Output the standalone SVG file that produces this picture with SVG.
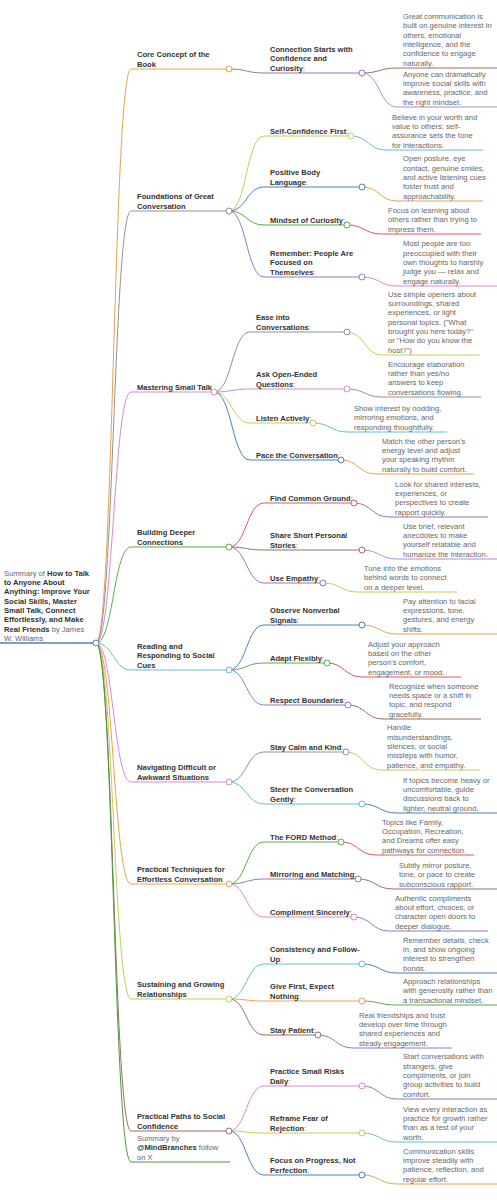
<svg xmlns="http://www.w3.org/2000/svg" width="497" height="1200" viewBox="0 0 497 1200">
<style>
text{font-family:"Liberation Sans",Arial,Helvetica,sans-serif;font-size:7.6px;fill:#666}
.b{font-weight:bold;fill:#333}
.r{font-weight:normal;fill:#666}
path{fill:none;stroke-width:1}
circle{fill:#fff;stroke-width:1}
.blue{stroke:#4f7fb8}.orange{stroke:#e8a34f}.green{stroke:#5eab4c}.red{stroke:#d65a5a}
.purple{stroke:#9479bd}.brown{stroke:#9c6f60}.pink{stroke:#d889cf}.gray{stroke:#929292}
.olive{stroke:#c6cd5a}.teal{stroke:#62c0cf}.dkgreen{stroke:#4d9a3c}.lav{stroke:#b78bcf}
</style>
<rect width="497" height="1200" fill="#fff"/>
<g id="connectors">
<path class="orange" d="M96,643C113.5,643 113.5,69 131,69"/>
<path class="gray" d="M96,643C113.5,643 113.5,211 131,211"/>
<path class="pink" d="M96,643C113.5,643 113.5,392 131,392"/>
<path class="green" d="M96,643C113.5,643 113.5,547 131,547"/>
<path class="teal" d="M96,643C113.5,643 113.5,670 131,670"/>
<path class="pink" d="M96,643C113.5,643 113.5,782 131,782"/>
<path class="orange" d="M96,643C113.5,643 113.5,884 131,884"/>
<path class="olive" d="M96,643C113.5,643 113.5,999 131,999"/>
<path class="brown" d="M96,643C113.5,643 113.5,1131 131,1131"/>
<path class="dkgreen" d="M96,643C113.5,643 113.5,1162 131,1162"/>
<path class="purple" d="M229,69C246.5,69 246.5,73 264,73"/>
<path class="olive" d="M229,211C246.5,211 246.5,136 264,136"/>
<path class="blue" d="M229,211C246.5,211 246.5,187 264,187"/>
<path class="green" d="M229,211C246.5,211 246.5,225 264,225"/>
<path class="purple" d="M229,211C246.5,211 246.5,277 264,277"/>
<path class="gray" d="M214,392C232,392 232,332 250,332"/>
<path class="pink" d="M214,392C232,392 232,389 250,389"/>
<path class="olive" d="M214,392C232,392 232,423 250,423"/>
<path class="blue" d="M214,392C232,392 232,460 250,460"/>
<path class="red" d="M229,547C246.5,547 246.5,503 264,503"/>
<path class="brown" d="M229,547C246.5,547 246.5,550 264,550"/>
<path class="purple" d="M229,547C246.5,547 246.5,583 264,583"/>
<path class="blue" d="M229,670C246.5,670 246.5,625 264,625"/>
<path class="green" d="M229,670C246.5,670 246.5,663 264,663"/>
<path class="purple" d="M229,670C246.5,670 246.5,705 264,705"/>
<path class="gray" d="M229,782C246.5,782 246.5,752 264,752"/>
<path class="teal" d="M229,782C246.5,782 246.5,804 264,804"/>
<path class="green" d="M229,884C246.5,884 246.5,842 264,842"/>
<path class="purple" d="M229,884C246.5,884 246.5,879 264,879"/>
<path class="pink" d="M229,884C246.5,884 246.5,917 264,917"/>
<path class="teal" d="M229,999C246.5,999 246.5,964 264,964"/>
<path class="orange" d="M229,999C246.5,999 246.5,1001 264,1001"/>
<path class="brown" d="M229,999C246.5,999 246.5,1035 264,1035"/>
<path class="pink" d="M229,1131C246.5,1131 246.5,1086 264,1086"/>
<path class="olive" d="M229,1131C246.5,1131 246.5,1133 264,1133"/>
<path class="blue" d="M229,1131C246.5,1131 246.5,1175 264,1175"/>
<path class="brown" d="M362,73C379.5,73 379.5,68 397,68"/>
<path class="lav" d="M362,73C379.5,73 379.5,107 397,107"/>
<path class="teal" d="M351,136C368.5,136 368.5,150 386,150"/>
<path class="orange" d="M362,187C379.5,187 379.5,201 397,201"/>
<path class="red" d="M347,225C364.5,225 364.5,234 382,234"/>
<path class="pink" d="M362,277C379.5,277 379.5,286 397,286"/>
<path class="olive" d="M347,332C364.5,332 364.5,355 382,355"/>
<path class="gray" d="M347,389C364.5,389 364.5,397 382,397"/>
<path class="teal" d="M313,423C330.5,423 330.5,432 348,432"/>
<path class="orange" d="M341,460C358.5,460 358.5,474 376,474"/>
<path class="purple" d="M354,503C371.5,503 371.5,517 389,517"/>
<path class="lav" d="M362,550C379.5,550 379.5,559 397,559"/>
<path class="olive" d="M323,583C340.5,583 340.5,592 358,592"/>
<path class="orange" d="M362,625C379.5,625 379.5,634 397,634"/>
<path class="red" d="M327,663C344.5,663 344.5,677 362,677"/>
<path class="brown" d="M348,705C365.5,705 365.5,719 383,719"/>
<path class="olive" d="M346,752C363.5,752 363.5,770 381,770"/>
<path class="blue" d="M362,804C379.5,804 379.5,813 397,813"/>
<path class="red" d="M341,842C358.5,842 358.5,855 376,855"/>
<path class="brown" d="M358,879C375.5,879 375.5,889 393,889"/>
<path class="purple" d="M354,917C371.5,917 371.5,931 389,931"/>
<path class="blue" d="M362,964C379.5,964 379.5,973 397,973"/>
<path class="green" d="M362,1001C379.5,1001 379.5,1005 397,1005"/>
<path class="purple" d="M318,1035C335.5,1035 335.5,1048 353,1048"/>
<path class="purple" d="M362,1086C379.5,1086 379.5,1099 397,1099"/>
<path class="teal" d="M362,1133C379.5,1133 379.5,1142 397,1142"/>
<path class="orange" d="M362,1175C379.5,1175 379.5,1184 397,1184"/>
</g>

<g id="root">
<path class="blue" d="M0,643H96" style="stroke-width:1.5"/>
<text x="4"><tspan x="4" y="575.7">Summary of <tspan class="b">How to Talk</tspan></tspan><tspan class="b" x="4" y="585">to Anyone About</tspan><tspan class="b" x="4" y="594.3">Anything: Improve Your</tspan><tspan class="b" x="4" y="603.6">Social Skills, Master</tspan><tspan class="b" x="4" y="612.9">Small Talk, Connect</tspan><tspan class="b" x="4" y="622.2">Effortlessly, and Make</tspan><tspan x="4" y="631.5"><tspan class="b">Real Friends</tspan> by James</tspan><tspan x="4" y="640.8">W. Williams</tspan></text>
<circle class="blue" cx="96" cy="643" r="3"/>
</g>

<g id="n-core">
<path class="orange" d="M131,69H229"/>
<text class="b"><tspan x="137" y="57.2">Core Concept of the</tspan><tspan x="137" y="66.5">Book</tspan></text>
<circle class="orange" cx="229" cy="69" r="3"/>
</g>
<g id="n-core-1">
<path class="purple" d="M264,73H362"/>
<text class="b"><tspan x="270" y="52">Connection Starts with</tspan><tspan x="270" y="61.3">Confidence and</tspan><tspan x="270" y="70.6">Curiosity<tspan class="r">:</tspan></tspan></text>
<circle class="purple" cx="362" cy="73" r="3"/>
</g>
<g id="n-core-1-a">
<path class="brown" d="M397,68H497"/>
<text><tspan x="403" y="19">Great communication is</tspan><tspan x="403" y="28.3">built on genuine interest in</tspan><tspan x="403" y="37.6">others, emotional</tspan><tspan x="403" y="46.9">intelligence, and the</tspan><tspan x="403" y="56.2">confidence to engage</tspan><tspan x="403" y="65.5">naturally.</tspan></text>
</g>
<g id="n-core-1-b">
<path class="lav" d="M397,107H497"/>
<text><tspan x="403" y="76.6">Anyone can dramatically</tspan><tspan x="403" y="85.9">improve social skills with</tspan><tspan x="403" y="95.2">awareness, practice, and</tspan><tspan x="403" y="104.5">the right mindset.</tspan></text>
</g>

<g id="n-found">
<path class="gray" d="M131,211H229"/>
<text class="b"><tspan x="137" y="199.2">Foundations of Great</tspan><tspan x="137" y="208.5">Conversation</tspan></text>
<circle class="gray" cx="229" cy="211" r="3"/>
</g>
<g id="n-found-1">
<path class="olive" d="M264,136H351"/>
<text class="b"><tspan x="270" y="133.5">Self-Confidence First<tspan class="r">:</tspan></tspan></text>
<circle class="olive" cx="351" cy="136" r="3"/>
</g>
<g id="n-found-1-a">
<path class="teal" d="M386,150H483"/>
<text><tspan x="392" y="119.6">Believe in your worth and</tspan><tspan x="392" y="128.9">value to others; self-</tspan><tspan x="392" y="138.2">assurance sets the tone</tspan><tspan x="392" y="147.5">for interactions.</tspan></text>
</g>
<g id="n-found-2">
<path class="blue" d="M264,187H362"/>
<text class="b"><tspan x="270" y="175.2">Positive Body</tspan><tspan x="270" y="184.5">Language<tspan class="r">:</tspan></tspan></text>
<circle class="blue" cx="362" cy="187" r="3"/>
</g>
<g id="n-found-2-a">
<path class="orange" d="M397,201H483"/>
<text><tspan x="403" y="161.3">Open posture, eye</tspan><tspan x="403" y="170.6">contact, genuine smiles,</tspan><tspan x="403" y="179.9">and active listening cues</tspan><tspan x="403" y="189.2">foster trust and</tspan><tspan x="403" y="198.5">approachability.</tspan></text>
</g>
<g id="n-found-3">
<path class="green" d="M264,225H347"/>
<text class="b"><tspan x="270" y="222.5">Mindset of Curiosity<tspan class="r">:</tspan></tspan></text>
<circle class="green" cx="347" cy="225" r="3"/>
</g>
<g id="n-found-3-a">
<path class="red" d="M382,234H481"/>
<text><tspan x="388" y="212.9">Focus on learning about</tspan><tspan x="388" y="222.2">others rather than trying to</tspan><tspan x="388" y="231.5">impress them.</tspan></text>
</g>
<g id="n-found-4">
<path class="purple" d="M264,277H362"/>
<text class="b"><tspan x="270" y="255.9">Remember: People Are</tspan><tspan x="270" y="265.2">Focused on</tspan><tspan x="270" y="274.5">Themselves<tspan class="r">:</tspan></tspan></text>
<circle class="purple" cx="362" cy="277" r="3"/>
</g>
<g id="n-found-4-a">
<path class="pink" d="M397,286H497"/>
<text><tspan x="403" y="246.3">Most people are too</tspan><tspan x="403" y="255.6">preoccupied with their</tspan><tspan x="403" y="264.9">own thoughts to harshly</tspan><tspan x="403" y="274.2">judge you — relax and</tspan><tspan x="403" y="283.5">engage naturally.</tspan></text>
</g>

<g id="n-small">
<path class="pink" d="M131,392H214"/>
<text class="b"><tspan x="137" y="389.5">Mastering Small Talk</tspan></text>
<circle class="pink" cx="214" cy="392" r="3"/>
</g>
<g id="n-small-1">
<path class="gray" d="M250,332H347"/>
<text class="b"><tspan x="256" y="320.2">Ease into</tspan><tspan x="256" y="329.5">Conversations<tspan class="r">:</tspan></tspan></text>
<circle class="gray" cx="347" cy="332" r="3"/>
</g>
<g id="n-small-1-a">
<path class="olive" d="M382,355H480"/>
<text><tspan x="388" y="296.7">Use simple openers about</tspan><tspan x="388" y="306">surroundings, shared</tspan><tspan x="388" y="315.3">experiences, or light</tspan><tspan x="388" y="324.6">personal topics. ("What</tspan><tspan x="388" y="333.9">brought you here today?"</tspan><tspan x="388" y="343.2">or "How do you know the</tspan><tspan x="388" y="352.5">host?")</tspan></text>
</g>
<g id="n-small-2">
<path class="pink" d="M250,389H347"/>
<text class="b"><tspan x="256" y="377.2">Ask Open-Ended</tspan><tspan x="256" y="386.5">Questions<tspan class="r">:</tspan></tspan></text>
<circle class="pink" cx="347" cy="389" r="3"/>
</g>
<g id="n-small-2-a">
<path class="gray" d="M382,397H481"/>
<text><tspan x="388" y="366.6">Encourage elaboration</tspan><tspan x="388" y="375.9">rather than yes/no</tspan><tspan x="388" y="385.2">answers to keep</tspan><tspan x="388" y="394.5">conversations flowing.</tspan></text>
</g>
<g id="n-small-3">
<path class="olive" d="M250,423H313"/>
<text class="b"><tspan x="256" y="420.5">Listen Actively<tspan class="r">:</tspan></tspan></text>
<circle class="olive" cx="313" cy="423" r="3"/>
</g>
<g id="n-small-3-a">
<path class="teal" d="M348,432H447"/>
<text><tspan x="354" y="410.9">Show interest by nodding,</tspan><tspan x="354" y="420.2">mirroring emotions, and</tspan><tspan x="354" y="429.5">responding thoughtfully.</tspan></text>
</g>
<g id="n-small-4">
<path class="blue" d="M250,460H341"/>
<text class="b"><tspan x="256" y="457.5">Pace the Conversation<tspan class="r">:</tspan></tspan></text>
<circle class="blue" cx="341" cy="460" r="3"/>
</g>
<g id="n-small-4-a">
<path class="orange" d="M376,474H474"/>
<text><tspan x="382" y="443.6">Match the other person's</tspan><tspan x="382" y="452.9">energy level and adjust</tspan><tspan x="382" y="462.2">your speaking rhythm</tspan><tspan x="382" y="471.5">naturally to build comfort.</tspan></text>
</g>

<g id="n-deep">
<path class="green" d="M131,547H229"/>
<text class="b"><tspan x="137" y="535.2">Building Deeper</tspan><tspan x="137" y="544.5">Connections</tspan></text>
<circle class="green" cx="229" cy="547" r="3"/>
</g>
<g id="n-deep-1">
<path class="red" d="M264,503H354"/>
<text class="b"><tspan x="270" y="500.5">Find Common Ground<tspan class="r">:</tspan></tspan></text>
<circle class="red" cx="354" cy="503" r="3"/>
</g>
<g id="n-deep-1-a">
<path class="purple" d="M389,517H488"/>
<text><tspan x="395" y="486.6">Look for shared interests,</tspan><tspan x="395" y="495.9">experiences, or</tspan><tspan x="395" y="505.2">perspectives to create</tspan><tspan x="395" y="514.5">rapport quickly.</tspan></text>
</g>
<g id="n-deep-2">
<path class="brown" d="M264,550H362"/>
<text class="b"><tspan x="270" y="538.2">Share Short Personal</tspan><tspan x="270" y="547.5">Stories<tspan class="r">:</tspan></tspan></text>
<circle class="brown" cx="362" cy="550" r="3"/>
</g>
<g id="n-deep-2-a">
<path class="lav" d="M397,559H497"/>
<text><tspan x="403" y="528.6">Use brief, relevant</tspan><tspan x="403" y="537.9">anecdotes to make</tspan><tspan x="403" y="547.2">yourself relatable and</tspan><tspan x="403" y="556.5">humanize the interaction.</tspan></text>
</g>
<g id="n-deep-3">
<path class="purple" d="M264,583H323"/>
<text class="b"><tspan x="270" y="580.5">Use Empathy<tspan class="r">:</tspan></tspan></text>
<circle class="purple" cx="323" cy="583" r="3"/>
</g>
<g id="n-deep-3-a">
<path class="olive" d="M358,592H457"/>
<text><tspan x="364" y="570.9">Tune into the emotions</tspan><tspan x="364" y="580.2">behind words to connect</tspan><tspan x="364" y="589.5">on a deeper level.</tspan></text>
</g>

<g id="n-cues">
<path class="teal" d="M131,670H229"/>
<text class="b"><tspan x="137" y="648.9">Reading and</tspan><tspan x="137" y="658.2">Responding to Social</tspan><tspan x="137" y="667.5">Cues</tspan></text>
<circle class="teal" cx="229" cy="670" r="3"/>
</g>
<g id="n-cues-1">
<path class="blue" d="M264,625H362"/>
<text class="b"><tspan x="270" y="613.2">Observe Nonverbal</tspan><tspan x="270" y="622.5">Signals<tspan class="r">:</tspan></tspan></text>
<circle class="blue" cx="362" cy="625" r="3"/>
</g>
<g id="n-cues-1-a">
<path class="orange" d="M397,634H497"/>
<text><tspan x="403" y="603.6">Pay attention to facial</tspan><tspan x="403" y="612.9">expressions, tone,</tspan><tspan x="403" y="622.2">gestures, and energy</tspan><tspan x="403" y="631.5">shifts.</tspan></text>
</g>
<g id="n-cues-2">
<path class="green" d="M264,663H327"/>
<text class="b"><tspan x="270" y="660.5">Adapt Flexibly<tspan class="r">:</tspan></tspan></text>
<circle class="green" cx="327" cy="663" r="3"/>
</g>
<g id="n-cues-2-a">
<path class="red" d="M362,677H461"/>
<text><tspan x="368" y="646.6">Adjust your approach</tspan><tspan x="368" y="655.9">based on the other</tspan><tspan x="368" y="665.2">person's comfort,</tspan><tspan x="368" y="674.5">engagement, or mood.</tspan></text>
</g>
<g id="n-cues-3">
<path class="purple" d="M264,705H348"/>
<text class="b"><tspan x="270" y="702.5">Respect Boundaries<tspan class="r">:</tspan></tspan></text>
<circle class="purple" cx="348" cy="705" r="3"/>
</g>
<g id="n-cues-3-a">
<path class="brown" d="M383,719H481"/>
<text><tspan x="389" y="688.6">Recognize when someone</tspan><tspan x="389" y="697.9">needs space or a shift in</tspan><tspan x="389" y="707.2">topic, and respond</tspan><tspan x="389" y="716.5">gracefully.</tspan></text>
</g>

<g id="n-awk">
<path class="pink" d="M131,782H229"/>
<text class="b"><tspan x="137" y="770.2">Navigating Difficult or</tspan><tspan x="137" y="779.5">Awkward Situations</tspan></text>
<circle class="pink" cx="229" cy="782" r="3"/>
</g>
<g id="n-awk-1">
<path class="gray" d="M264,752H346"/>
<text class="b"><tspan x="270" y="749.5">Stay Calm and Kind<tspan class="r">:</tspan></tspan></text>
<circle class="gray" cx="346" cy="752" r="3"/>
</g>
<g id="n-awk-1-a">
<path class="olive" d="M381,770H480"/>
<text><tspan x="387" y="730.3">Handle</tspan><tspan x="387" y="739.6">misunderstandings,</tspan><tspan x="387" y="748.9">silences, or social</tspan><tspan x="387" y="758.2">missteps with humor,</tspan><tspan x="387" y="767.5">patience, and empathy.</tspan></text>
</g>
<g id="n-awk-2">
<path class="teal" d="M264,804H362"/>
<text class="b"><tspan x="270" y="792.2">Steer the Conversation</tspan><tspan x="270" y="801.5">Gently<tspan class="r">:</tspan></tspan></text>
<circle class="teal" cx="362" cy="804" r="3"/>
</g>
<g id="n-awk-2-a">
<path class="blue" d="M397,813H497"/>
<text><tspan x="403" y="782.6">If topics become heavy or</tspan><tspan x="403" y="791.9">uncomfortable, guide</tspan><tspan x="403" y="801.2">discussions back to</tspan><tspan x="403" y="810.5">lighter, neutral ground.</tspan></text>
</g>

<g id="n-tech">
<path class="orange" d="M131,884H229"/>
<text class="b"><tspan x="137" y="872.2">Practical Techniques for</tspan><tspan x="137" y="881.5">Effortless Conversation</tspan></text>
<circle class="orange" cx="229" cy="884" r="3"/>
</g>
<g id="n-tech-1">
<path class="green" d="M264,842H341"/>
<text class="b"><tspan x="270" y="839.5">The FORD Method<tspan class="r">:</tspan></tspan></text>
<circle class="green" cx="341" cy="842" r="3"/>
</g>
<g id="n-tech-1-a">
<path class="red" d="M376,855H474"/>
<text><tspan x="382" y="824.6">Topics like Family,</tspan><tspan x="382" y="833.9">Occupation, Recreation,</tspan><tspan x="382" y="843.2">and Dreams offer easy</tspan><tspan x="382" y="852.5">pathways for connection.</tspan></text>
</g>
<g id="n-tech-2">
<path class="purple" d="M264,879H358"/>
<text class="b"><tspan x="270" y="876.5">Mirroring and Matching<tspan class="r">:</tspan></tspan></text>
<circle class="purple" cx="358" cy="879" r="3"/>
</g>
<g id="n-tech-2-a">
<path class="brown" d="M393,889H497"/>
<text><tspan x="399" y="867.9">Subtly mirror posture,</tspan><tspan x="399" y="877.2">tone, or pace to create</tspan><tspan x="399" y="886.5">subconscious rapport.</tspan></text>
</g>
<g id="n-tech-3">
<path class="pink" d="M264,917H354"/>
<text class="b"><tspan x="270" y="914.5">Compliment Sincerely<tspan class="r">:</tspan></tspan></text>
<circle class="pink" cx="354" cy="917" r="3"/>
</g>
<g id="n-tech-3-a">
<path class="purple" d="M389,931H488"/>
<text><tspan x="395" y="900.6">Authentic compliments</tspan><tspan x="395" y="909.9">about effort, choices, or</tspan><tspan x="395" y="919.2">character open doors to</tspan><tspan x="395" y="928.5">deeper dialogue.</tspan></text>
</g>

<g id="n-rel">
<path class="olive" d="M131,999H229"/>
<text class="b"><tspan x="137" y="987.2">Sustaining and Growing</tspan><tspan x="137" y="996.5">Relationships</tspan></text>
<circle class="olive" cx="229" cy="999" r="3"/>
</g>
<g id="n-rel-1">
<path class="teal" d="M264,964H362"/>
<text class="b"><tspan x="270" y="952.2">Consistency and Follow-</tspan><tspan x="270" y="961.5">Up<tspan class="r">:</tspan></tspan></text>
<circle class="teal" cx="362" cy="964" r="3"/>
</g>
<g id="n-rel-1-a">
<path class="blue" d="M397,973H497"/>
<text><tspan x="403" y="942.6">Remember details, check</tspan><tspan x="403" y="951.9">in, and show ongoing</tspan><tspan x="403" y="961.2">interest to strengthen</tspan><tspan x="403" y="970.5">bonds.</tspan></text>
</g>
<g id="n-rel-2">
<path class="orange" d="M264,1001H362"/>
<text class="b"><tspan x="270" y="989.2">Give First, Expect</tspan><tspan x="270" y="998.5">Nothing<tspan class="r">:</tspan></tspan></text>
<circle class="orange" cx="362" cy="1001" r="3"/>
</g>
<g id="n-rel-2-a">
<path class="green" d="M397,1005H497"/>
<text><tspan x="403" y="983.9">Approach relationships</tspan><tspan x="403" y="993.2">with generosity rather than</tspan><tspan x="403" y="1002.5">a transactional mindset.</tspan></text>
</g>
<g id="n-rel-3">
<path class="brown" d="M264,1035H318"/>
<text class="b"><tspan x="270" y="1032.5">Stay Patient<tspan class="r">:</tspan></tspan></text>
<circle class="brown" cx="318" cy="1035" r="3"/>
</g>
<g id="n-rel-3-a">
<path class="purple" d="M353,1048H452"/>
<text><tspan x="359" y="1017.6">Real friendships and trust</tspan><tspan x="359" y="1026.9">develop over time through</tspan><tspan x="359" y="1036.2">shared experiences and</tspan><tspan x="359" y="1045.5">steady engagement.</tspan></text>
</g>

<g id="n-paths">
<path class="brown" d="M131,1131H229"/>
<text class="b"><tspan x="137" y="1119.2">Practical Paths to Social</tspan><tspan x="137" y="1128.5">Confidence</tspan></text>
<circle class="brown" cx="229" cy="1131" r="3"/>
</g>
<g id="n-paths-1">
<path class="pink" d="M264,1086H362"/>
<text class="b"><tspan x="270" y="1074.2">Practice Small Risks</tspan><tspan x="270" y="1083.5">Daily<tspan class="r">:</tspan></tspan></text>
<circle class="pink" cx="362" cy="1086" r="3"/>
</g>
<g id="n-paths-1-a">
<path class="purple" d="M397,1099H497"/>
<text><tspan x="403" y="1059.3">Start conversations with</tspan><tspan x="403" y="1068.6">strangers, give</tspan><tspan x="403" y="1077.9">compliments, or join</tspan><tspan x="403" y="1087.2">group activities to build</tspan><tspan x="403" y="1096.5">comfort.</tspan></text>
</g>
<g id="n-paths-2">
<path class="olive" d="M264,1133H362"/>
<text class="b"><tspan x="270" y="1121.2">Reframe Fear of</tspan><tspan x="270" y="1130.5">Rejection<tspan class="r">:</tspan></tspan></text>
<circle class="olive" cx="362" cy="1133" r="3"/>
</g>
<g id="n-paths-2-a">
<path class="teal" d="M397,1142H497"/>
<text><tspan x="403" y="1111.6">View every interaction as</tspan><tspan x="403" y="1120.9">practice for growth rather</tspan><tspan x="403" y="1130.2">than as a test of your</tspan><tspan x="403" y="1139.5">worth.</tspan></text>
</g>
<g id="n-paths-3">
<path class="blue" d="M264,1175H362"/>
<text class="b"><tspan x="270" y="1163.2">Focus on Progress, Not</tspan><tspan x="270" y="1172.5">Perfection<tspan class="r">:</tspan></tspan></text>
<circle class="blue" cx="362" cy="1175" r="3"/>
</g>
<g id="n-paths-3-a">
<path class="orange" d="M397,1184H497"/>
<text><tspan x="403" y="1153.6">Communication skills</tspan><tspan x="403" y="1162.9">improve steadily with</tspan><tspan x="403" y="1172.2">patience, reflection, and</tspan><tspan x="403" y="1181.5">regular effort.</tspan></text>
</g>

<g id="n-credit">
<path class="dkgreen" d="M131,1162H230"/>
<text><tspan x="137" y="1140.9">Summary by</tspan><tspan x="137" y="1150.2"><tspan class="b">@MindBranches</tspan> follow</tspan><tspan x="137" y="1159.5">on X</tspan></text>
</g>
</svg>
